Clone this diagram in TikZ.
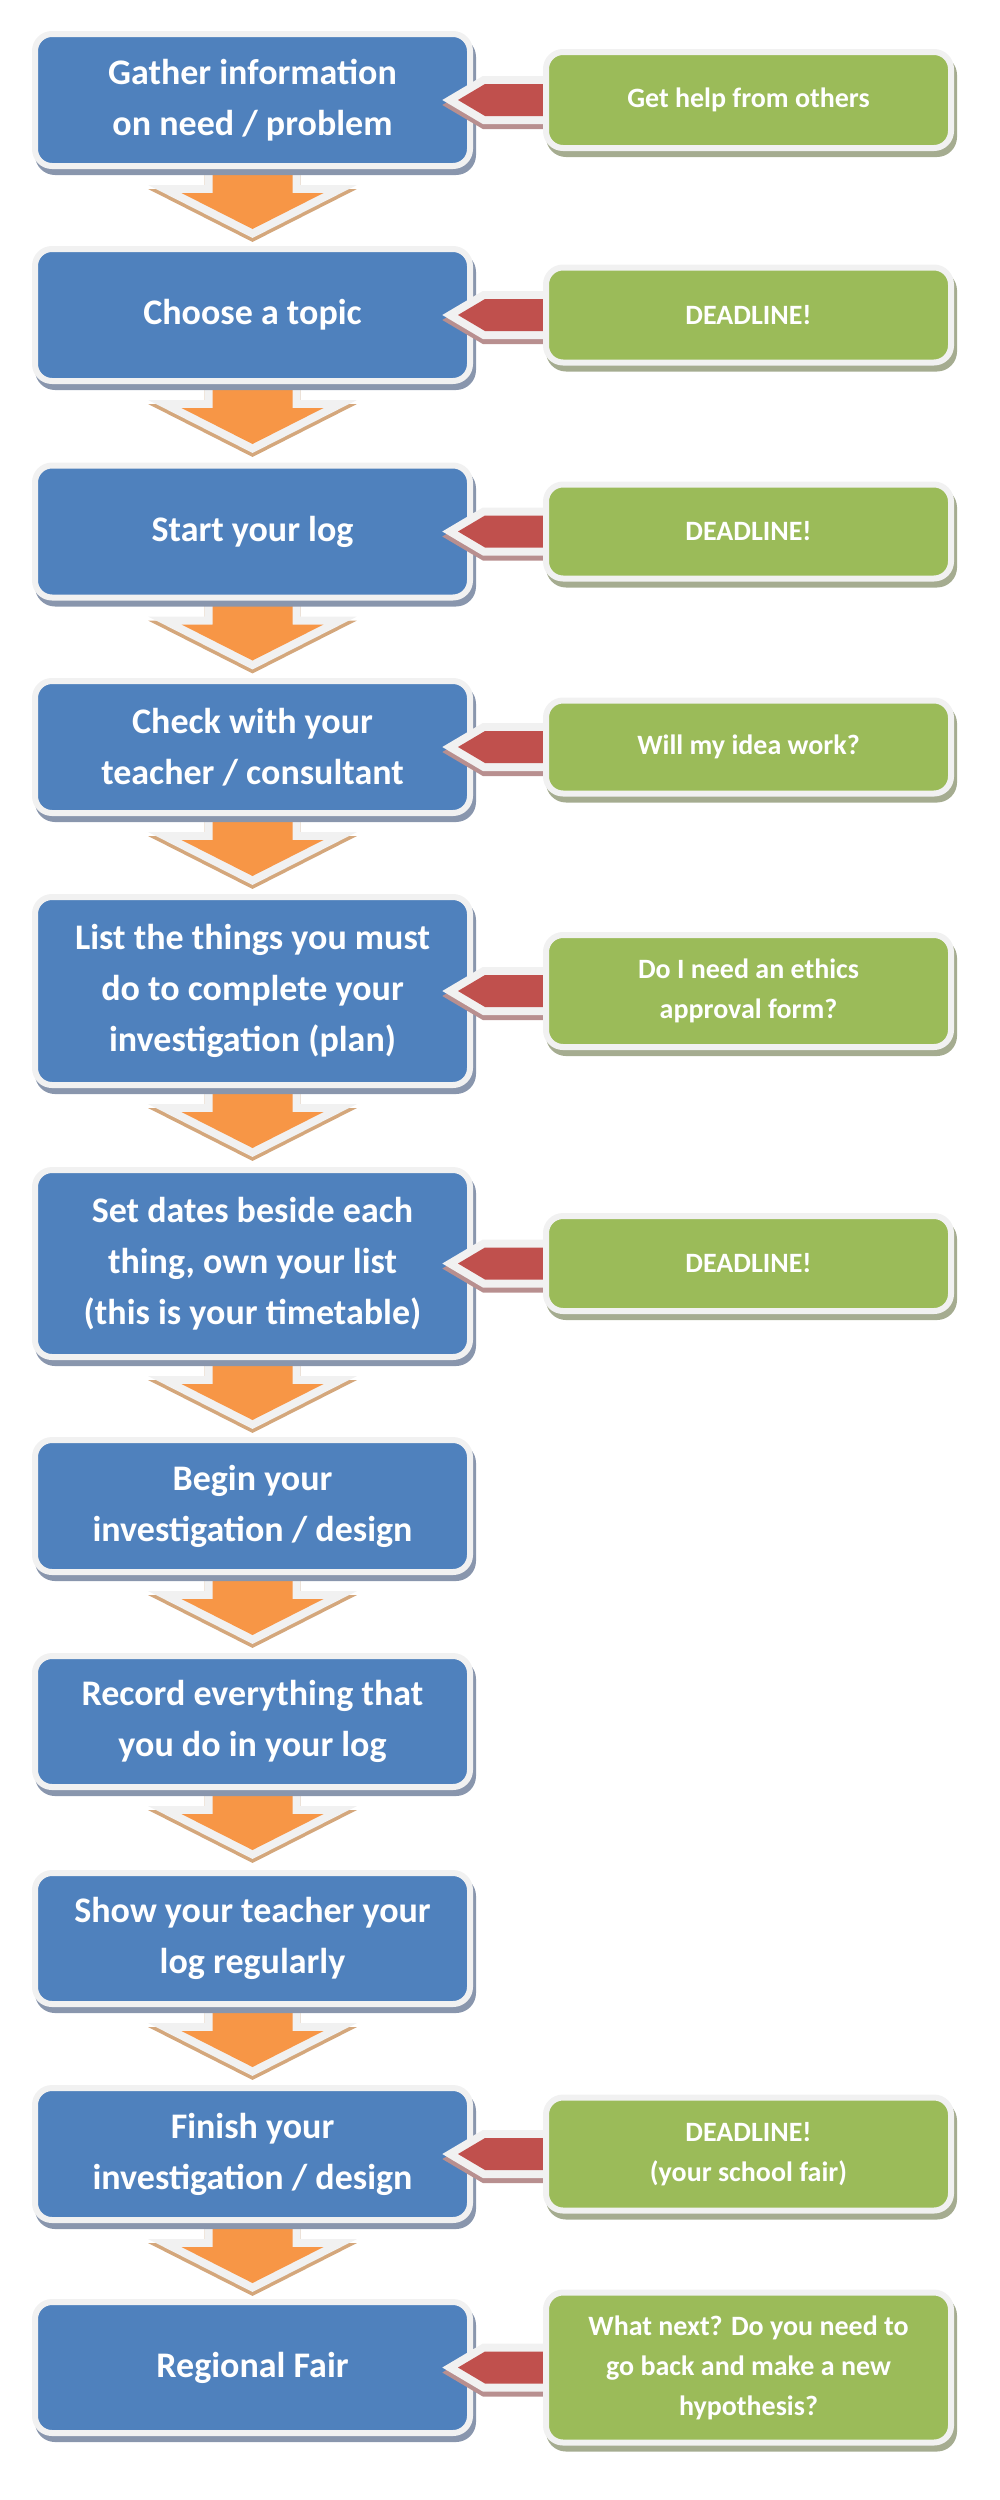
\documentclass[tikz,border=0pt]{standalone}
\usepackage{fontspec}
\setmainfont{Carlito}
\usetikzlibrary{calc,positioning}
\definecolor{stepblue}{HTML}{4F81BD}
\definecolor{notegreen}{HTML}{9BBB59}
\definecolor{flagred}{HTML}{C0504D}
\definecolor{flowora}{HTML}{F79646}
\definecolor{rimgray}{HTML}{F1F1F1}
\definecolor{blueshade}{HTML}{8996AD}
\definecolor{greenshade}{HTML}{A5AC90}
\definecolor{redshade}{HTML}{B88F8F}
\definecolor{orashade}{HTML}{D4A77C}
\pgfdeclarelayer{back}
\pgfdeclarelayer{front}
\pgfsetlayers{back,main,front}
\tikzset{
  stepbox/.style={rounded corners=17pt,fill=stepblue,draw=rimgray,line width=6pt,outer sep=0pt,inner sep=0pt,minimum width=435pt,align=center,text=white,font=\bfseries\fontsize{36}{51}\selectfont,preaction={draw=blueshade,fill=blueshade,line width=6pt,transform canvas={xshift=3pt,yshift=-6pt}}},
  notebox/.style={rounded corners=17pt,fill=notegreen,draw=rimgray,line width=6pt,outer sep=0pt,inner sep=0pt,minimum width=405pt,align=center,text=white,font=\bfseries\fontsize{28}{40}\selectfont,preaction={draw=greenshade,fill=greenshade,line width=6pt,transform canvas={xshift=3pt,yshift=-6pt}}},
  downarr/.style={fill=flowora,preaction={draw=orashade,fill=orashade,line width=16pt,transform canvas={yshift=-4pt}},preaction={draw=rimgray,fill=rimgray,line width=16pt}},
  leftarr/.style={fill=flagred,preaction={draw=redshade,fill=redshade,line width=16pt,transform canvas={yshift=-5pt}},preaction={draw=rimgray,fill=rimgray,line width=16pt}},
}
\begin{document}
\begin{tikzpicture}[x=1pt,y=-1pt]
\useasboundingbox (0,0) rectangle (1000,2500);
% steps
\foreach \i/\y/\h/\txt in {1/100/132/{Gather information\\on need / problem},2/315/132/{Choose a topic},3/531.5/132/{Start your log},4/747/132/{Check with your\\teacher / consultant},5/991/188/{List the things you must\\do to complete your\\investigation (plan)},6/1263.5/187/{Set dates beside each\\thing, own your list\\(this is your timetable)},7/1506/132/{Begin your\\investigation / design},8/1721.5/131/{Record everything that\\you do in your log},9/1938.5/131/{Show your teacher your\\log regularly},10/2154/132/{Finish your\\investigation / design},11/2367.5/131/{Regional Fair}}
  \node[stepbox,minimum height=\h pt] (b\i) at (252.5,\y) {\txt};
% side notes
\begin{pgfonlayer}{front}
\foreach \i/\h/\txt in {1/96/{Get help from others},2/95/{DEADLINE!},3/94/{DEADLINE!},4/93/{Will my idea work?},5/112/{Do I need an ethics\\approval form?},6/95/{DEADLINE!},10/113/{DEADLINE!\\(your school fair)},11/150/{What next? Do you need to\\go back and make a new\\hypothesis?}}
  \node[notebox,minimum height=\h pt,right=76pt of b\i] (g\i) {\txt};
\end{pgfonlayer}
% red pointers
\foreach \i in {1,2,3,4,5,6,10,11}
  \fill[leftarr] ($(b\i.east)+(-12,0)$) -- ++(27,-16) -- ($(g\i.west)+(6,-16)$) -- ++(0,32) -- ($(b\i.east)+(15,16)$) -- cycle;
% orange arrows
\begin{pgfonlayer}{back}
\foreach \i in {1,...,10}
  \fill[downarr] (b\i.south) ++(-40,-15) -- ++(80,0) -- ++(0,42) -- ++(31,0) -- ++(-71,36) -- ++(-71,-36) -- ++(31,0) -- cycle;
\end{pgfonlayer}
\end{tikzpicture}
\end{document}
